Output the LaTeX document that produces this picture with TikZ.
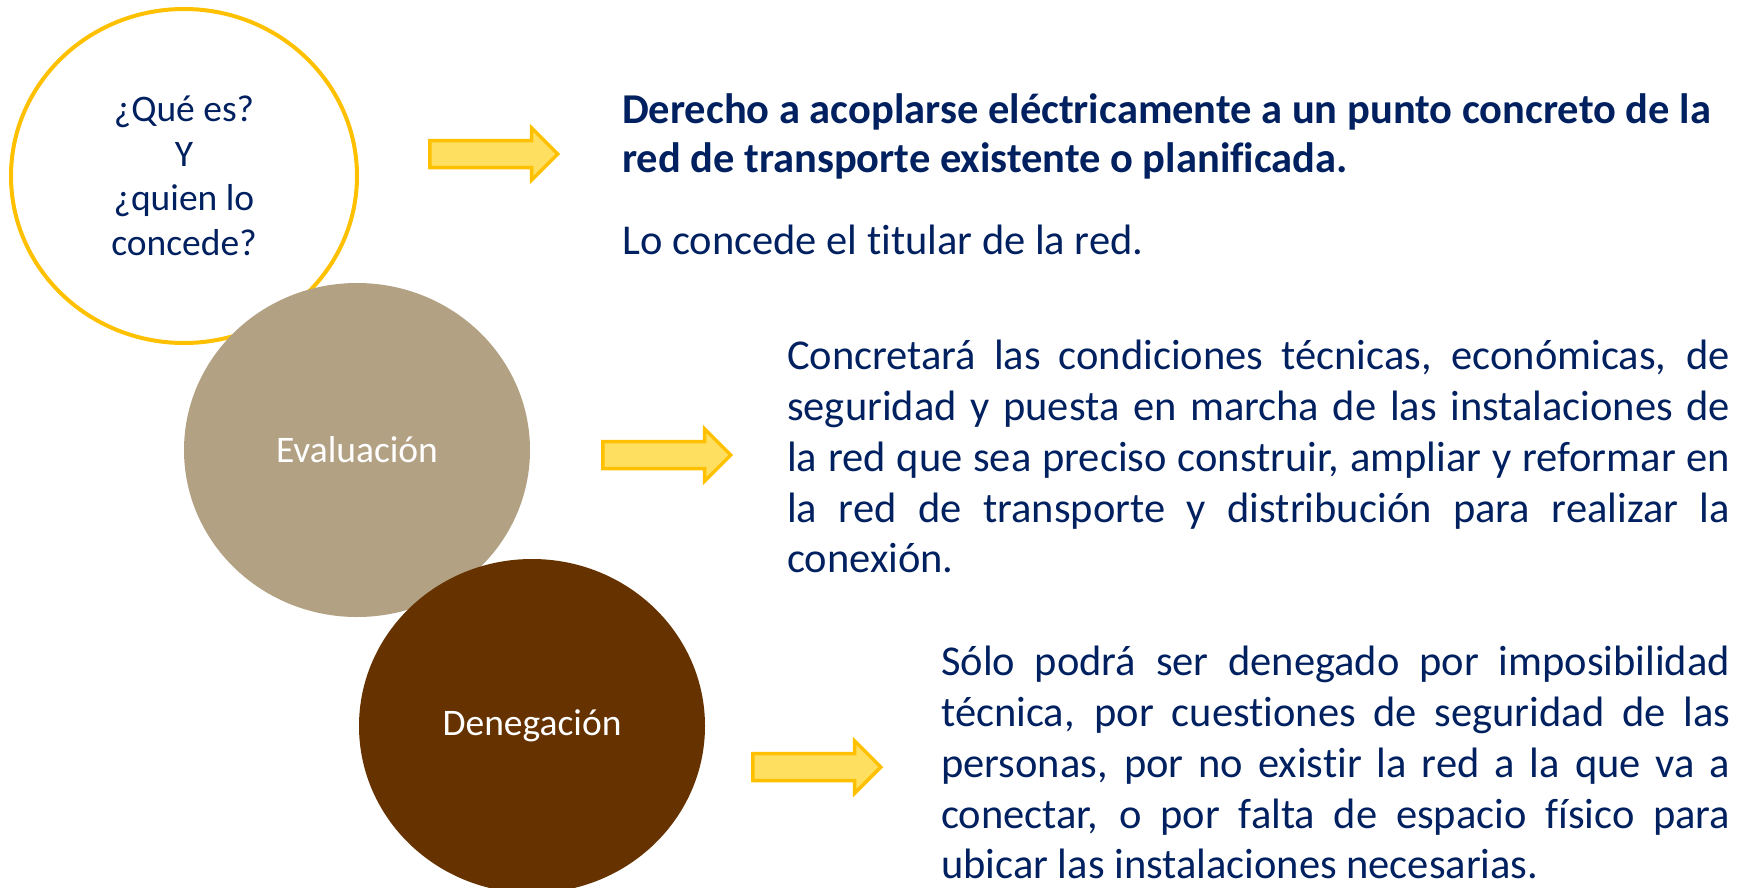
\documentclass[tikz,border=0pt]{standalone}
\usepackage{fontspec}
\setmainfont{Carlito}[Ligatures=CommonOff]
\usetikzlibrary{positioning, shapes.geometric, shapes.arrows}
\definecolor{navy}{RGB}{0,32,96}
\definecolor{gold}{RGB}{255,192,0}
\definecolor{lightgold}{RGB}{255,223,95}
\definecolor{sand}{RGB}{179,161,132}
\definecolor{darkbrown}{RGB}{102,51,0}

\begin{document}
\begin{tikzpicture}
	[x=1pt, y=-1pt, on grid,
	 blob/.style={ellipse, minimum width=346pt, minimum height=334pt, inner sep=0pt, align=center, font=\fontsize{37.5}{44.6}\selectfont},
	 bigarrow/.style={single arrow, draw=gold, fill=lightgold, line width=3.5pt, minimum height=128pt, inner xsep=0pt, inner ysep=11.75pt, single arrow head extend=12.75pt, single arrow tip angle=90},
	 body/.style={text=navy, inner sep=0pt, anchor=north west, font=\fontsize{42.5}{50.8}\selectfont}]
   \useasboundingbox (0,0) rectangle (1750,887);
   % circles
   \node[blob, draw=gold, line width=4pt, fill=white, text=navy] (que) at (184,176) {¿Qué es?\\Y\\¿quien lo\\concede?};
   \node[blob, fill=sand, text=white] (eval) [below right=274pt and 173pt of que] {Evaluación};
   \node[blob, fill=darkbrown, text=white] (den) [below right=276pt and 175pt of eval] {Denegación};
   % arrows
   \node[bigarrow] (arr_que) at (487,154) {};
   \node[bigarrow] (arr_eval) at (660,455) {};
   \node[bigarrow] (arr_den) at (810,767) {};
   % texts
   \node[body, font=\fontsize{42.5}{49}\selectfont\bfseries, align=left] (derecho) at (622,93)
     {Derecho a acoplarse eléctricamente a un punto concreto de la\\red de transporte existente o planificada.};
   \node[body, font=\fontsize{42.5}{49}\selectfont] (titular) at (622,225) {Lo concede el titular de la red.};
   \node[body, text width=943pt, align=justify] (condiciones) at (787,340)
     {Concretará las condiciones técnicas, económicas, de\linebreak
      seguridad y puesta en marcha de las instalaciones de\linebreak
      la red que sea preciso construir, ampliar y reformar en\linebreak
      la red de transporte y distribución para realizar la\linebreak
      conexión.};
   \node[body, text width=789pt, align=justify] (denegado) at (941,646)
     {Sólo podrá ser denegado por imposibilidad\linebreak
      técnica, por cuestiones de seguridad de las\linebreak
      personas, por no existir la red a la que va a\linebreak
      conectar, o por falta de espacio físico para\linebreak
      ubicar las instalaciones necesarias.};
\end{tikzpicture}
\end{document}
